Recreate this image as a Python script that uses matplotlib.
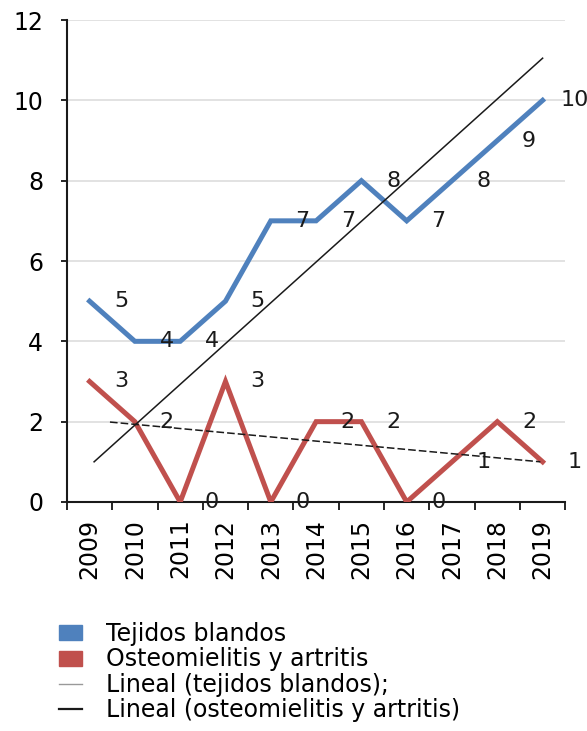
import matplotlib.pyplot as plt
import numpy as np
from matplotlib.lines import Line2D
from matplotlib.patches import Patch

YEARS = ["2009", "2010", "2011", "2012", "2013", "2014",
         "2015", "2016", "2017", "2018", "2019"]
TEJIDOS = [5, 4, 4, 5, 7, 7, 8, 7, 8, 9, 10]
OSTEO = [3, 2, 0, 3, 0, 2, 2, 0, 1, 2, 1]

# trend lines as drawn in the source (category index, value)
TREND_TEJ_X = [0.1, 10.0]
TREND_TEJ_Y = [1.0, 11.05]
TREND_OST_X = [0.45, 9.95]
TREND_OST_Y = [1.99, 1.0]

BLUE = "#4f81bd"
RED = "#c0504d"

plt.rcParams["font.family"] = ["DejaVu Sans"]

fig = plt.figure(figsize=(5.87, 7.31), dpi=100)
ax = fig.add_axes([0.114, 0.3133, 0.849, 0.6593])

x = np.arange(len(YEARS))
ax.plot(x, TEJIDOS, color=BLUE, lw=3.6, solid_joinstyle="miter", zorder=3)
ax.plot(x, OSTEO, color=RED, lw=3.6, solid_joinstyle="miter", zorder=3)
ax.plot(TREND_TEJ_X, TREND_TEJ_Y, color="#1a1a1a", lw=1.1, zorder=4)
ax.plot(TREND_OST_X, TREND_OST_Y, color="#1a1a1a", lw=1.1,
        dashes=(5, 2), zorder=4)

for xi, v in zip(x, TEJIDOS):
    ax.text(xi + 0.7, v, str(v), fontsize=16, ha="center", va="center",
            color="#1a1a1a", zorder=5)
for xi, v in zip(x, OSTEO):
    ax.text(xi + 0.7, v, str(v), fontsize=16, ha="center", va="center",
            color="#1a1a1a", zorder=5)

ax.set_xlim(-0.5, len(YEARS) - 0.5)
ax.set_ylim(0, 12)
ax.set_yticks(range(0, 13, 2))
ax.tick_params(axis="y", labelsize=17, length=4, width=1.2, pad=13)
ax.yaxis.grid(True, color="#dddddd", lw=1.2)
ax.set_axisbelow(True)

ax.set_xticks(x)
ax.set_xticklabels(YEARS, rotation=90, fontsize=17)
ax.set_xticks(np.arange(-0.5, len(YEARS)), minor=True)
ax.tick_params(axis="x", which="major", length=0, pad=12)
ax.tick_params(axis="x", which="minor", length=6, width=1.2, direction="out")

for side in ("top", "right"):
    ax.spines[side].set_visible(False)
for side in ("left", "bottom"):
    ax.spines[side].set_linewidth(1.5)
    ax.spines[side].set_color("#1a1a1a")

handles = [
    Patch(facecolor=BLUE, edgecolor=BLUE),
    Patch(facecolor=RED, edgecolor=RED),
    Line2D([], [], color="#999999", lw=1.0),
    Line2D([], [], color="#1a1a1a", lw=1.6),
]
labels = ["Tejidos blandos", "Osteomielitis y artritis",
          "Lineal (tejidos blandos);", "Lineal (osteomielitis y artritis)"]
fig.legend(handles, labels, loc="upper left", bbox_to_anchor=(0.08, 0.165),
           frameon=False, fontsize=17, handlelength=1.0, handleheight=0.6,
           handletextpad=1.0, labelspacing=0.05, borderpad=0)

fig.savefig("out.png", dpi=100)
